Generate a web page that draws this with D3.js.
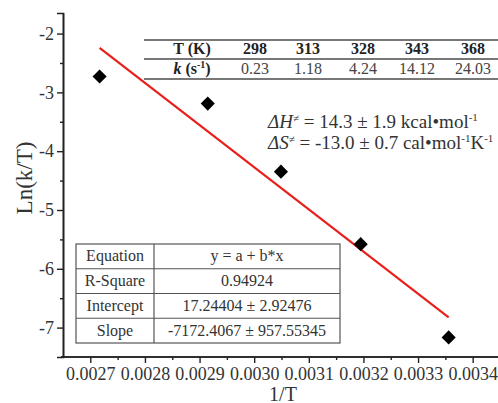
<!DOCTYPE html>
<html>
<head>
<meta charset="utf-8">
<script src="https://cdn.jsdelivr.net/npm/d3@7"></script>
<style>
  body { margin: 0; background: #fff; }
  svg { display: block; }
  svg text { font-family: "Times New Roman", "Liberation Serif", "DejaVu Serif", serif; }
</style>
</head>
<body>
<svg id="chart" width="498" height="403"></svg>
<script>
// measured points (1/T, ln(k/T))
const invT = [0.002717, 0.002915, 0.003049, 0.003195, 0.003356];
const lnkT = [-2.729, -3.190, -4.348, -5.581, -7.167];

// linear fit
const intercept = 17.24404;
const slope = -7172.4067;

// rate table
const tempK = ['298', '313', '328', '343', '368'];
const rateK = ['0.23', '1.18', '4.24', '14.12', '24.03'];

// fit statistics
const statNames = ['Equation', 'R-Square', 'Intercept', 'Slope'];
const statValues = ['y = a + b*x', '0.94924', '17.24404 \u00b1 2.92476', '-7172.4067 \u00b1 957.55345'];

const xTicks = [0.0027, 0.0028, 0.0029, 0.0030, 0.0031, 0.0032, 0.0033, 0.0034];
const yTicks = [-2, -3, -4, -5, -6, -7];

const svg = d3.select('#chart');

const x = d3.scaleLinear().domain([0.00265, 0.00345]).range([63, 500]);
const y = d3.scaleLinear().domain([-7.5, -1.65]).range([357, 13]);

// Axes
const xAxis = svg.append('g')
    .attr('transform', `translate(0,${y(-7.5)})`)
    .call(d3.axisBottom(x).tickValues(xTicks).tickFormat(d3.format('.4f'))
      .tickSizeOuter(0).tickSize(6).tickPadding(4));
xAxis.append('g').call(d3.axisBottom(x)
    .tickValues(d3.range(0.00275, 0.00345, 0.0001)).tickFormat('').tickSize(3).tickSizeOuter(0));
xAxis.selectAll('.domain').attr('stroke-width', 1.6).attr('d', `M61,0H500`);

const yAxis = svg.append('g')
    .attr('transform', `translate(${x(0.00265)},0)`)
    .call(d3.axisLeft(y).tickValues(yTicks).tickFormat(d => '-' + Math.abs(d))
      .tickSizeOuter(0).tickSize(6).tickPadding(3));
yAxis.append('g').call(d3.axisLeft(y)
    .tickValues([-2.5, -3.5, -4.5, -5.5, -6.5]).tickFormat('').tickSize(3).tickSizeOuter(0));
yAxis.selectAll('.domain').attr('stroke-width', 1.6);

svg.selectAll('.tick line').attr('stroke', '#222').attr('stroke-width', 1.4);
svg.selectAll('.domain').attr('stroke', '#222');
svg.selectAll('.tick text')
    .attr('font-size', 18)
    .attr('fill', '#333');

// Axis titles
svg.append('text')
    .attr('x', 283).attr('y', 401)
    .attr('text-anchor', 'middle')
    .attr('font-size', 20).attr('fill', '#333')
    .text('1/T');
svg.append('text')
    .attr('transform', `translate(32,178) rotate(-90)`)
    .attr('text-anchor', 'middle')
    .attr('font-size', 23).attr('fill', '#333')
    .text('Ln(k/T)');

// Fit line
const x0 = d3.min(invT), x1 = d3.max(invT);
svg.append('line')
    .attr('x1', x(x0)).attr('y1', y(intercept + slope * x0))
    .attr('x2', x(x1)).attr('y2', y(intercept + slope * x1))
    .attr('stroke', '#e8201c')
    .attr('stroke-width', 2.2);

// Points
svg.append('g').selectAll('path')
    .data(invT.map((v, i) => [v, lnkT[i]]))
    .join('path')
      .attr('transform', d => `translate(${x(d[0])},${y(d[1])}) rotate(45)`)
      .attr('d', d3.symbol(d3.symbolSquare, 100))
      .attr('fill', '#000');

// Rate table
const rt = svg.append('g');
const colX = [192, 255, 308, 363, 417, 473];
[40, 59, 79].forEach(ly => {
  rt.append('line')
      .attr('x1', 144).attr('x2', 498)
      .attr('y1', ly).attr('y2', ly)
      .attr('stroke', '#777').attr('stroke-width', 1.8);
});
rt.append('text')
    .attr('x', colX[0]).attr('y', 54)
    .attr('text-anchor', 'middle')
    .attr('font-size', 16).attr('font-weight', 'bold').attr('fill', '#222')
    .text('T (K)');
const kl = rt.append('text')
    .attr('x', colX[0]).attr('y', 74)
    .attr('text-anchor', 'middle')
    .attr('font-size', 16).attr('font-weight', 'bold').attr('fill', '#222');
kl.append('tspan').attr('font-style', 'italic').text('k');
kl.append('tspan').text(' (s');
kl.append('tspan').attr('font-size', 10).attr('dy', -6).text('-1');
kl.append('tspan').attr('dy', 6).text(')');
rt.selectAll('.tk')
    .data(tempK)
    .join('text')
      .attr('x', (d, i) => colX[i + 1]).attr('y', 54)
      .attr('text-anchor', 'middle')
      .attr('font-size', 16).attr('font-weight', 'bold').attr('fill', '#222')
      .text(d => d);
rt.selectAll('.rk')
    .data(rateK)
    .join('text')
      .attr('x', (d, i) => colX[i + 1]).attr('y', 74)
      .attr('text-anchor', 'middle')
      .attr('font-size', 16).attr('fill', '#444')
      .text(d => d);

// Activation parameters
function paramLine(yy, sym, parts) {
  const t = svg.append('text')
      .attr('x', 268).attr('y', yy)
      .attr('font-size', 19).attr('fill', '#333');
  t.append('tspan').attr('font-style', 'italic').text('\u0394' + sym);
  t.append('tspan').attr('font-size', 11).attr('dy', -6).text('\u2260');
  t.append('tspan').attr('dy', 6).text(parts[0]);
  for (let i = 1; i < parts.length; i += 2) {
    t.append('tspan').attr('font-size', 11).attr('dy', -7).text(parts[i]);
    t.append('tspan').attr('dy', 7).text(parts[i + 1] || '');
  }
}
paramLine(128, 'H', [' = 14.3 \u00b1 1.9 kcal\u2022mol', '-1', '']);
paramLine(149, 'S', [' = -13.0 \u00b1 0.7 cal\u2022mol', '-1', 'K', '-1', '']);

// Fit statistics table
const st = svg.append('g');
const tx0 = 76, tx1 = 340, tdiv = 154, ty0 = 244, rowH = 24.75;
st.append('rect')
    .attr('x', tx0).attr('y', ty0)
    .attr('width', tx1 - tx0).attr('height', rowH * 4)
    .attr('fill', '#fff').attr('stroke', '#555').attr('stroke-width', 1.2);
st.append('line')
    .attr('x1', tdiv).attr('x2', tdiv)
    .attr('y1', ty0).attr('y2', ty0 + rowH * 4)
    .attr('stroke', '#555').attr('stroke-width', 1.2);
d3.range(1, 4).forEach(i => {
  st.append('line')
      .attr('x1', tx0).attr('x2', tx1)
      .attr('y1', ty0 + rowH * i).attr('y2', ty0 + rowH * i)
      .attr('stroke', '#555').attr('stroke-width', 1.2);
});
st.selectAll('.sn')
    .data(statNames)
    .join('text')
      .attr('x', (tx0 + tdiv) / 2)
      .attr('y', (d, i) => ty0 + rowH * i + rowH / 2 + 5)
      .attr('text-anchor', 'middle')
      .attr('font-size', 16).attr('fill', '#333')
      .text(d => d);
st.selectAll('.sv')
    .data(statValues)
    .join('text')
      .attr('x', (tdiv + tx1) / 2)
      .attr('y', (d, i) => ty0 + rowH * i + rowH / 2 + 5)
      .attr('text-anchor', 'middle')
      .attr('font-size', 16).attr('fill', '#333')
      .text(d => d);
</script>
</body>
</html>
